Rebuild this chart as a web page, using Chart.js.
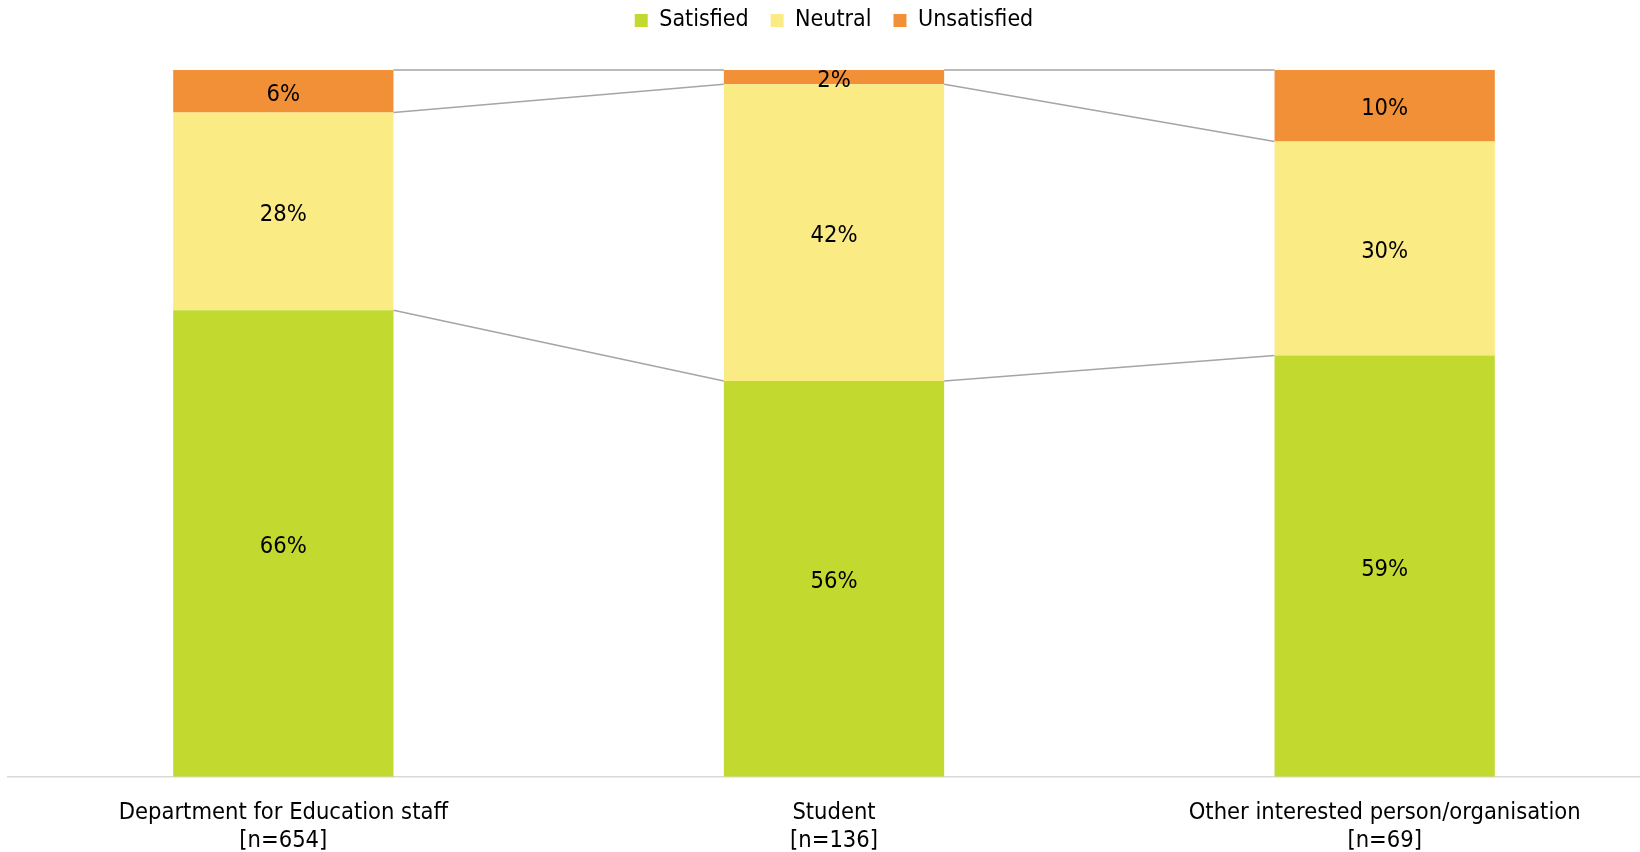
<!DOCTYPE html>
<html>
<head>
<meta charset="utf-8">
<title>Satisfaction by respondent type</title>
<script src="https://cdn.jsdelivr.net/npm/chart.js@4/dist/chart.umd.min.js"></script>
<style>
  html, body { margin: 0; padding: 0; background: #fff; overflow: hidden; }
  #wrap { width: 1640px; height: 852px; overflow: hidden; position: relative; }
  #chart { position: absolute; left: 0; top: 0; }
</style>
</head>
<body>
<div id="wrap"><canvas id="chart" width="1660" height="852"></canvas></div>
<script>
  // Respondent groups (two-line axis labels)
  var CATEGORIES = [
    ['Department for Education staff', '[n=654]'],
    ['Student', '[n=136]'],
    ['Other interested person/organisation', '[n=69]']
  ];

  // Percentages as labelled on the bars
  var SATISFIED = [66, 56, 59];
  var NEUTRAL = [28, 42, 30];
  var UNSATISFIED = [6, 2, 10];

  var SERIES_NAMES = ['Satisfied', 'Neutral', 'Unsatisfied'];
  var SERIES_COLORS = ['#c2d92f', '#fbeb84', '#f19036'];

  var FONT = "'DejaVu Sans Condensed', 'DejaVu Sans', sans-serif";
  var LEGEND_SIZE = 23;
  var LABEL_SIZE = 23.5;

  // 100% stacked: each bar is scaled to its own total
  var RAW = [SATISFIED, NEUTRAL, UNSATISFIED];
  var TOTALS = CATEGORIES.map(function (_, i) {
    return RAW.reduce(function (s, arr) { return s + arr[i]; }, 0);
  });
  function share(arr) {
    return arr.map(function (v, i) { return v / TOTALS[i] * 100; });
  }

  // Excel-style series lines joining the segment tops of neighbouring bars
  var seriesLines = {
    id: 'seriesLines',
    beforeDatasetsDraw: function (chart) {
      var ctx = chart.ctx;
      ctx.save();
      ctx.strokeStyle = '#a5a5a5';
      ctx.lineWidth = 1.5;
      chart.data.datasets.forEach(function (ds, di) {
        var bars = chart.getDatasetMeta(di).data;
        for (var j = 0; j < bars.length - 1; j++) {
          var a = bars[j], b = bars[j + 1];
          ctx.beginPath();
          ctx.moveTo(a.x + a.width / 2, a.y);
          ctx.lineTo(b.x - b.width / 2, b.y);
          ctx.stroke();
        }
      });
      ctx.restore();
    }
  };

  // Value labels, digits centred vertically in each segment
  var segmentLabels = {
    id: 'segmentLabels',
    afterDatasetsDraw: function (chart) {
      var ctx = chart.ctx;
      ctx.save();
      ctx.font = LABEL_SIZE + 'px ' + FONT;
      ctx.fillStyle = '#000';
      ctx.textAlign = 'center';
      ctx.textBaseline = 'alphabetic';
      var capHalf = LABEL_SIZE * 0.729 / 2;
      chart.data.datasets.forEach(function (ds, di) {
        chart.getDatasetMeta(di).data.forEach(function (bar, j) {
          ctx.fillText(RAW[di][j] + '%', bar.x, (bar.y + bar.base) / 2 + capHalf + 1);
        });
      });
      ctx.restore();
    }
  };

  Chart.defaults.font.family = FONT;
  Chart.defaults.color = '#000';

  new Chart(document.getElementById('chart').getContext('2d'), {
    type: 'bar',
    data: {
      labels: CATEGORIES,
      datasets: SERIES_NAMES.map(function (name, i) {
        return {
          label: name,
          data: share(RAW[i]),
          backgroundColor: SERIES_COLORS[i],
          borderWidth: 0,
          barPercentage: 0.4,
          categoryPercentage: 1
        };
      })
    },
    options: {
      responsive: false,
      animation: false,
      layout: { padding: { top: -13, bottom: -24.2, left: 8, right: 0 } },
      plugins: {
        tooltip: { enabled: false },
        legend: {
          position: 'top',
          labels: {
            boxWidth: 13, boxHeight: 13, padding: 22, color: '#000',
            font: { size: LEGEND_SIZE }
          }
        }
      },
      scales: {
        x: {
          stacked: true,
          grid: { display: false, drawTicks: false },
          border: { display: true, color: '#d9d9d9', width: 1.5 },
          ticks: { padding: 21.5, color: '#000', maxRotation: 0, font: { size: LABEL_SIZE } }
        },
        y: {
          stacked: true,
          display: false,
          min: 0,
          max: 103.97
        }
      }
    },
    plugins: [seriesLines, segmentLabels]
  });
</script>
</body>
</html>
